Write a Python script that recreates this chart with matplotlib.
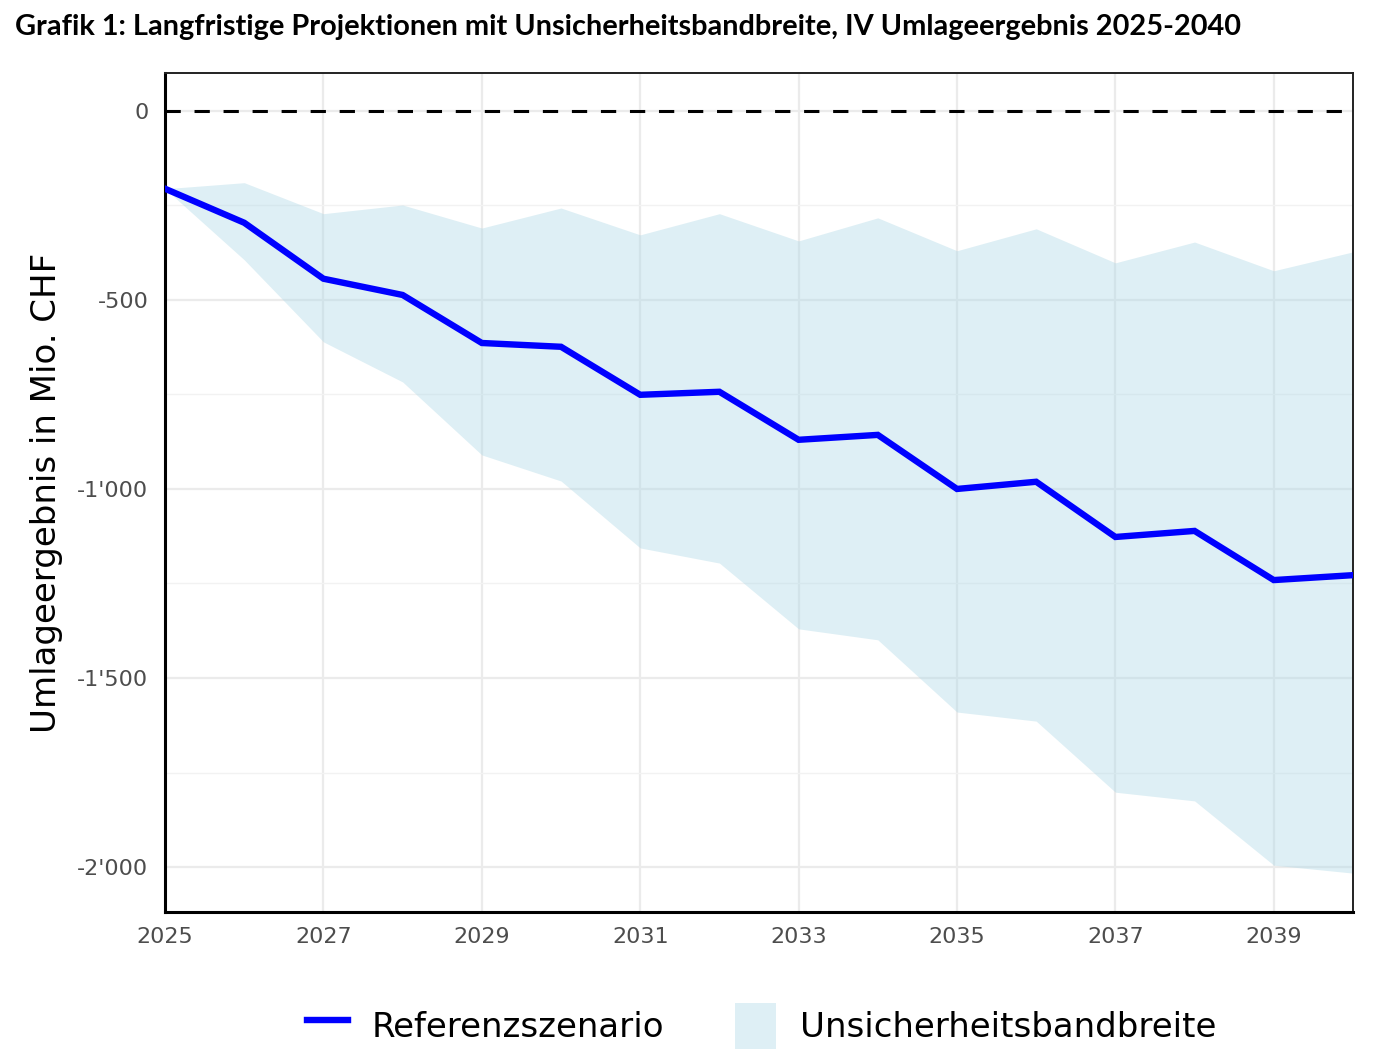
import numpy as np
import matplotlib
matplotlib.use("Agg")
import matplotlib.pyplot as plt
from matplotlib.ticker import FuncFormatter, MultipleLocator
from matplotlib.patches import Patch
from matplotlib.lines import Line2D

plt.rcParams["font.family"] = "DejaVu Sans"

# Data (Mio. CHF)
years = [2025, 2026, 2027, 2028, 2029, 2030, 2031, 2032,
         2033, 2034, 2035, 2036, 2037, 2038, 2039, 2040]
referenz = [-206, -296, -444, -487, -614, -624, -751, -743,
            -870, -857, -1000, -981, -1127, -1111, -1241, -1228]
band_oben = [-206, -190, -272, -249, -310, -257, -328, -272,
             -344, -283, -370, -312, -402, -347, -423, -373]
band_unten = [-206, -394, -611, -717, -910, -979, -1156, -1196,
              -1370, -1399, -1590, -1614, -1802, -1825, -1995, -2016]

title = "Grafik 1: Langfristige Projektionen mit Unsicherheitsbandbreite, IV Umlageergebnis 2025-2040"

fig = plt.figure(figsize=(14, 10.63), dpi=100)
ax = fig.add_axes([0.1179, 0.142, 0.8485, 0.7893])

# grid
ax.xaxis.set_major_locator(MultipleLocator(2))
ax.yaxis.set_major_locator(MultipleLocator(500))
ax.yaxis.set_minor_locator(MultipleLocator(250))
ax.grid(which="major", color="#ebebeb", lw=1.6, zorder=0)
ax.grid(which="minor", axis="y", color="#f2f2f2", lw=1.0, zorder=0)
ax.set_axisbelow(True)

ax.fill_between(years, band_unten, band_oben, color="lightblue", alpha=0.4,
                lw=0, zorder=2)
ax.plot(years, referenz, color="blue", lw=4.6, zorder=3, solid_joinstyle="miter")
ax.axhline(0, color="black", lw=2.2, ls=(0, (5, 4.5)), zorder=4)

ax.set_xlim(2025, 2040)
ax.set_ylim(-2119, 100)
ax.set_xticks(range(2025, 2041, 2))

ax.yaxis.set_major_formatter(FuncFormatter(lambda v, p: f"{int(v):,}".replace(",", "'")))
ax.tick_params(which="both", length=0, labelsize=16, labelcolor="#4d4d4d")
ax.tick_params(axis="x", pad=11)
ax.tick_params(axis="y", pad=12)

for side in ["left", "bottom"]:
    ax.spines[side].set_linewidth(2.2)
    ax.spines[side].set_color("black")
for side in ["top", "right"]:
    ax.spines[side].set_linewidth(1.4)
    ax.spines[side].set_color("#222222")

ax.set_ylabel("Umlageergebnis in Mio. CHF", fontsize=24.5, labelpad=10)

fig.text(0.011, 0.975, title, fontsize=20.8, fontweight="bold",
         family="Lato", va="center", ha="left")

handles = [Line2D([0], [0], color="blue", lw=4.6),
           Patch(facecolor="lightblue", alpha=0.4, edgecolor="none")]
fig.legend(handles, ["Referenzszenario", "Unsicherheitsbandbreite"],
           loc="center", bbox_to_anchor=(0.544, 0.035), ncol=2, frameon=False,
           fontsize=24.5, handlelength=1.2, handleheight=1.7, columnspacing=2.1,
           handletextpad=0.7)

fig.savefig("out.png", dpi=100)
